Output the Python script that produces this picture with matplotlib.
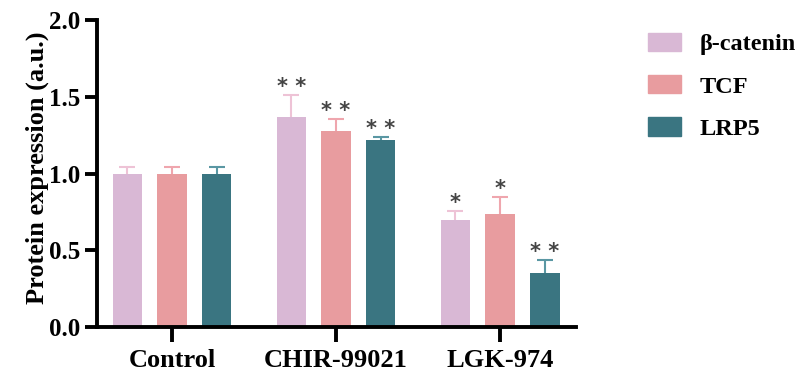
import numpy as np
import matplotlib.pyplot as plt
from matplotlib.patches import Patch

# data
groups = ['Control', 'CHIR-99021', 'LGK-974']
series = ['β-catenin', 'TCF', 'LRP5']
means = {
    'β-catenin': [1.00, 1.37, 0.70],
    'TCF': [1.00, 1.28, 0.735],
    'LRP5': [1.00, 1.22, 0.355],
}
errs = {
    'β-catenin': [0.045, 0.14, 0.055],
    'TCF': [0.04, 0.075, 0.11],
    'LRP5': [0.045, 0.02, 0.08],
}
stars = {
    'β-catenin': ['', '**', '*'],
    'TCF': ['', '**', '*'],
    'LRP5': ['', '**', '**'],
}

bar_colors = ['#D9B8D5', '#E89C9F', '#3A7581']
err_colors = ['#EEC3D6', '#EFA6AE', '#5A97A3']

plt.rcParams['font.family'] = ['Liberation Serif', 'DejaVu Serif']
plt.rcParams['font.weight'] = 'bold'

fig = plt.figure(figsize=(8.08, 3.73), dpi=100)
ax = fig.add_axes([0.12, 0.1233, 0.593, 0.823])

x = np.arange(len(groups))
step = 0.272
width = 0.18
for i, name in enumerate(series):
    pos = x + (i - 1) * step
    ax.bar(pos, means[name], width, color=bar_colors[i], zorder=2)
    eb = ax.errorbar(pos, means[name], yerr=[np.zeros(3), errs[name]], fmt='none',
                     ecolor=err_colors[i], elinewidth=1.5, capsize=6, capthick=1.5, zorder=1)
    eb[1][0].set_visible(False)  # hide the lower cap sitting on the bar top
    for p, m, e, s in zip(pos, means[name], errs[name], stars[name]):
        if s:
            ax.annotate(' '.join(s), (p, m + e), xytext=(0, -1.5), textcoords='offset points',
                        ha='center', va='bottom', fontsize=15, color='#444444',
                        fontweight='bold', family='DejaVu Sans')

ax.set_xlim(-0.457, 2.463)
ax.set_ylim(0, 2.0)
ax.set_yticks([0, 0.5, 1.0, 1.5, 2.0])
ax.set_yticklabels(['0.0', '0.5', '1.0', '1.5', '2.0'])
ax.set_xticks(x)
ax.set_xticklabels(groups)
ax.set_ylabel('Protein expression (a.u.)', fontsize=19, fontweight='bold')
ax.yaxis.set_label_coords(-0.10, 0.52)
ax.tick_params(axis='y', labelsize=18, width=2.8, length=9, pad=3)
ax.tick_params(axis='x', labelsize=19, width=2.8, length=11, pad=5)
for side in ['top', 'right']:
    ax.spines[side].set_visible(False)
for side in ['left', 'bottom']:
    ax.spines[side].set_linewidth(2.8)

handles = [Patch(color=c, label=n) for c, n in zip(bar_colors, series)]
fig.legend(handles=handles, loc='upper left', bbox_to_anchor=(0.802, 0.912), frameon=False,
           fontsize=17.5, handlelength=1.36, handleheight=0.78, labelspacing=0.81,
           handletextpad=0.78, borderpad=0, borderaxespad=0)

fig.savefig('out.png', dpi=100)
